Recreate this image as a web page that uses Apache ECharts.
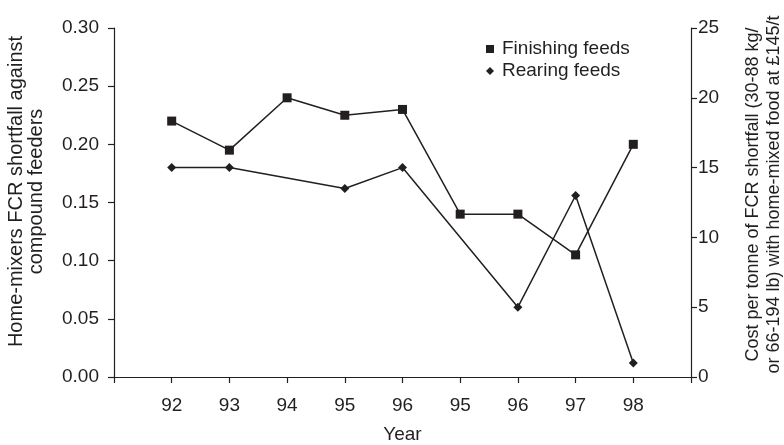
<!DOCTYPE html>
<html>
<head>
<meta charset="utf-8">
<script src="https://cdn.jsdelivr.net/npm/echarts@6/dist/echarts.min.js"></script>
<style>
html,body{margin:0;padding:0;background:#fff;}
#chart{width:784px;height:445px;}
</style>
</head>
<body>
<div id="chart"></div>
<script>
var yearLabels = ['92','93','94','95','96','95','96','97','98'];
var finishingFeeds = [0.22, 0.195, 0.24, 0.225, 0.23, 0.14, 0.14, 0.105, 0.20];
var rearingFeeds = [0.18, 0.18, null, 0.162, 0.18, null, 0.06, 0.156, 0.012];
var leftTicks = {min: 0, max: 0.30, interval: 0.05};
var rightTicks = {min: 0, max: 25, interval: 5};

function toPairs(arr) {
  return arr.map(function (v, i) { return [i + 1, v]; });
}

var textColor = '#231f20';
var font = '"Liberation Sans", Arial, Helvetica, sans-serif';
var fs = 19;
var axisLineStyle = {color: '#231f20', width: 1.2};

var chart = echarts.init(document.getElementById('chart'), null, {renderer: 'canvas'});
chart.setOption({
  animation: false,
  backgroundColor: '#fff',
  textStyle: {fontFamily: font, color: textColor},
  grid: {left: 114, right: 93, top: 28, bottom: 68, containLabel: false, outerBoundsMode: 'none'},
  legend: {
    orient: 'vertical',
    left: 481,
    top: 34,
    itemWidth: 8,
    itemHeight: 8,
    itemGap: 2,
    textStyle: {fontSize: fs, color: textColor, fontFamily: font, lineHeight: 20, padding: [0, 0, 0, 3]},
    data: [
      {name: 'Finishing feeds', icon: 'rect'},
      {name: 'Rearing feeds', icon: 'diamond'}
    ]
  },
  xAxis: {
    type: 'value',
    min: 0,
    max: yearLabels.length + 1,
    interval: 1,
    name: 'Year',
    nameLocation: 'middle',
    nameGap: 48,
    nameTextStyle: {fontSize: fs, color: textColor, fontFamily: font},
    axisLine: {show: true, lineStyle: axisLineStyle},
    axisTick: {show: true, inside: false, length: 6, lineStyle: axisLineStyle},
    splitLine: {show: false},
    axisLabel: {
      fontSize: fs, color: textColor, fontFamily: font, margin: 19,
      showMinLabel: true, showMaxLabel: true,
      formatter: function (v) {
        var i = Math.round(v);
        return (i >= 1 && i <= yearLabels.length) ? yearLabels[i - 1] : '';
      }
    }
  },
  yAxis: [
    {
      type: 'value',
      position: 'left',
      min: leftTicks.min, max: leftTicks.max, interval: leftTicks.interval,
      name: 'Home-mixers FCR shortfall against\ncompound feeders',
      nameLocation: 'middle',
      nameGap: 68,
      nameTextStyle: {fontSize: 20, color: textColor, fontFamily: font, lineHeight: 20, padding: [0, 0, 0, 22]},
      axisLine: {show: true, lineStyle: axisLineStyle},
      axisTick: {show: true, inside: false, length: 6, lineStyle: axisLineStyle},
      splitLine: {show: false},
      axisLabel: {fontSize: fs, color: textColor, fontFamily: font, margin: 15,
        formatter: function (v) { return v.toFixed(2); }}
    },
    {
      type: 'value',
      position: 'right',
      min: rightTicks.min, max: rightTicks.max, interval: rightTicks.interval,
      name: 'Cost per tonne of FCR shortfall (30-88 kg/\nor 66-194 lb) with home-mixed food at £145/t',
      nameLocation: 'middle',
      nameGap: 52,
      nameTextStyle: {fontSize: 18, color: textColor, fontFamily: font, lineHeight: 21, padding: [0, 0, 0, 16]},
      axisLine: {show: true, lineStyle: axisLineStyle},
      axisTick: {show: true, inside: false, length: 6, lineStyle: axisLineStyle},
      splitLine: {show: false},
      axisLabel: {fontSize: fs, color: textColor, fontFamily: font, margin: 7}
    }
  ],
  series: [
    {
      name: 'Finishing feeds',
      type: 'line',
      yAxisIndex: 0,
      data: toPairs(finishingFeeds),
      symbol: 'rect',
      symbolSize: 9,
      itemStyle: {color: '#231f20'},
      lineStyle: {color: '#231f20', width: 1.5},
      connectNulls: true
    },
    {
      name: 'Rearing feeds',
      type: 'line',
      yAxisIndex: 0,
      data: toPairs(rearingFeeds),
      symbol: 'diamond',
      symbolSize: 9,
      itemStyle: {color: '#231f20'},
      lineStyle: {color: '#231f20', width: 1.5},
      connectNulls: true
    }
  ]
});
</script>
</body>
</html>
